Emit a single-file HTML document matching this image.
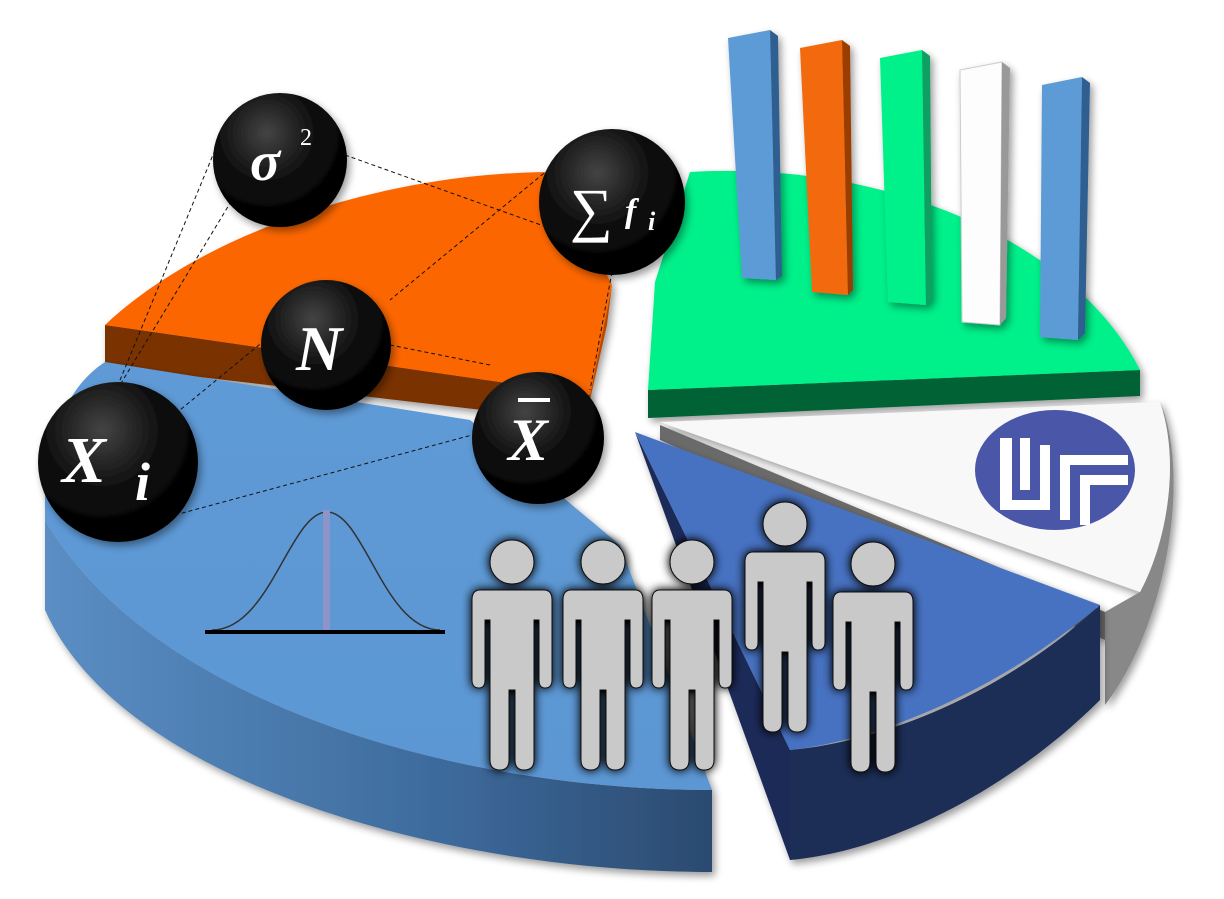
<!DOCTYPE html>
<html><head><meta charset="utf-8"><style>
html,body{margin:0;padding:0;background:#fff}
svg{display:block}
text{font-family:"Liberation Serif",serif;font-weight:bold;font-style:italic;fill:#fff}
</style></head><body>
<svg width="1224" height="899" viewBox="0 0 1224 899" xmlns="http://www.w3.org/2000/svg">
<defs>
<linearGradient id="bs" x1="0" y1="0" x2="1" y2="0">
<stop offset="0" stop-color="#5b8ec4"/><stop offset="0.6" stop-color="#3d6a9c"/><stop offset="1" stop-color="#2b4a70"/></linearGradient>
<linearGradient id="bt" x1="0" y1="0" x2="0" y2="1">
<stop offset="0" stop-color="#5e9ad6"/><stop offset="1" stop-color="#5c97d4"/></linearGradient>
<radialGradient id="ball" cx="0.4" cy="0.3" r="0.8">
<stop offset="0" stop-color="#444"/><stop offset="0.5" stop-color="#0a0a0a"/><stop offset="1" stop-color="#000"/></radialGradient>
<filter id="glow" x="-20%" y="-20%" width="140%" height="140%"><feGaussianBlur in="SourceAlpha" stdDeviation="5"/><feComponentTransfer><feFuncA type="linear" slope="1.2"/></feComponentTransfer><feMerge><feMergeNode/><feMergeNode in="SourceGraphic"/></feMerge></filter>
<filter id="sh" x="-20%" y="-20%" width="140%" height="140%"><feGaussianBlur in="SourceAlpha" stdDeviation="4"/><feOffset dx="3" dy="4"/><feComponentTransfer><feFuncA type="linear" slope="0.4"/></feComponentTransfer><feMerge><feMergeNode/><feMergeNode in="SourceGraphic"/></feMerge></filter>
<g id="man"><circle cx="0" cy="-78" r="22"/><path d="M-32,-50 Q-40,-50 -40,-40 L-40,40 Q-40,48 -33,48 Q-27,48 -27,40 L-27,-20 L-22,-20 L-22,120 Q-22,130 -12,130 Q-3,130 -3,120 L-3,50 L3,50 L3,120 Q3,130 12,130 Q22,130 22,120 L22,-20 L27,-20 L27,40 Q27,48 33,48 Q40,48 40,40 L40,-40 Q40,-50 32,-50 Z"/></g>
</defs>

<g filter="url(#sh)">
<path d="M105,325 L590,395 L585,422 L105,366 Z" fill="#7a3000"/>
<path d="M612,285 L590,395 L585,422 L607,325 Z" fill="#b84800"/>
<path d="M105,325 C200,235 380,172 555,172 L612,285 L590,395 Z" fill="#fb6600"/>
</g>
<g filter="url(#sh)">
<path d="M648,390 L1140,370 L1140,396 L648,418 Z" fill="#006236"/>
<path d="M655,282 L690,172 C900,160 1080,250 1140,370 L648,390 Z" fill="#00f08a"/>
</g>
<g filter="url(#sh)">
<path d="M1140,592 C1168,540 1180,460 1160,402 C1190,470 1170,620 1105,705 L1105,612 Z" fill="#888"/>
<path d="M660,425 L1105,612 L1105,640 L660,440 Z" fill="#6a6a6a"/>
<path d="M660,422 L1160,402 C1180,460 1168,540 1140,592 Z" fill="#f8f8f8"/>
</g>
<ellipse cx="1055" cy="470" rx="80" ry="60" fill="#4a57a8"/>
<path d="M1000,438 L1012,438 L1012,500 L1040,500 L1040,445 L1050,445 L1050,510 L1000,510 Z" fill="#fff"/>
<path d="M1020,438 L1030,438 L1030,490 L1020,490 Z" fill="#fff"/>
<path d="M1060,455 L1128,455 L1128,465 L1070,465 L1070,520 L1060,520 Z" fill="#fff"/>
<path d="M1080,475 L1128,475 L1128,485 L1090,485 L1090,525 L1080,525 Z" fill="#fff"/>
<g filter="url(#sh)">
<path d="M635,432 L790,750 L790,860 Z" fill="#1b2c58"/>
<path d="M790,750 C900,740 1020,680 1100,605 L1100,700 C1020,780 900,850 790,860 Z" fill="#1e2e56"/>
<path d="M635,432 L1100,605 C1000,690 880,740 790,750 Z" fill="#4672c2"/>
</g>
<g filter="url(#sh)">
<path d="M45,520 C150,700 450,790 712,790 L712,872 C440,872 120,780 45,610 Z" fill="url(#bs)"/>
<path d="M45,470 C60,395 90,372 105,362 L470,420 L620,545 L712,790 C450,790 150,700 45,520 Z" fill="url(#bt)"/>
</g>
<g filter="url(#sh)">
<path d="M728,38 L770,30 L776,280 L742,278 Z" fill="#5b9bd5"/><path d="M770,30 L778,36 L782,276 L776,280 Z" fill="#2e5f90"/>
<path d="M800,48 L842,40 L848,295 L812,292 Z" fill="#f26a10"/><path d="M842,40 L850,46 L853,290 L848,295 Z" fill="#9c3c00"/>
<path d="M880,58 L922,50 L926,305 L888,302 Z" fill="#00f08a"/><path d="M922,50 L930,56 L932,300 L926,305 Z" fill="#08a060"/>
<path d="M960,70 L1002,62 L1000,325 L962,322 Z" fill="#fdfdfd" stroke="#ccc"/><path d="M1002,62 L1010,68 L1006,318 L1000,325 Z" fill="#999"/>
<path d="M1042,85 L1082,77 L1078,340 L1040,337 Z" fill="#5b9bd5"/><path d="M1082,77 L1090,83 L1085,333 L1078,340 Z" fill="#2e5f90"/>
</g>
<path d="M212,630 C270,630 290,512 327,512 C364,512 384,630 440,630" fill="none" stroke="#333" stroke-width="1.5"/>
<rect x="323" y="510" width="7" height="122" fill="#8b95c8"/>
<line x1="205" y1="632" x2="445" y2="632" stroke="#000" stroke-width="4"/>
<g fill="#c9c9c9" stroke="#111" stroke-width="1" filter="url(#glow)">
<use href="#man" x="512" y="640"/>
<use href="#man" x="603" y="640"/>
<use href="#man" x="692" y="640"/>
<use href="#man" x="785" y="602"/>
<use href="#man" x="873" y="642"/>
</g>
<g stroke="#111" stroke-width="1" stroke-dasharray="4,3" fill="none">
<line x1="215" y1="150" x2="118" y2="385"/>
<line x1="345" y1="155" x2="555" y2="230"/>
<line x1="560" y1="160" x2="390" y2="300"/>
<line x1="612" y1="272" x2="590" y2="390"/>
<line x1="390" y1="345" x2="490" y2="365"/>
<line x1="265" y1="340" x2="180" y2="410"/>
<line x1="175" y1="515" x2="472" y2="435"/>
<line x1="235" y1="195" x2="120" y2="385"/>
</g>
<g filter="url(#sh)">
<circle cx="280" cy="160" r="67" fill="url(#ball)"/>
<circle cx="612" cy="202" r="73" fill="url(#ball)"/>
<circle cx="326" cy="345" r="65" fill="url(#ball)"/>
<circle cx="538" cy="438" r="66" fill="url(#ball)"/>
<circle cx="118" cy="462" r="80" fill="url(#ball)"/>
</g>
<text x="250" y="180" font-size="56">σ</text>
<text x="300" y="145" font-size="24" style="font-style:normal;font-weight:normal">2</text>
<text x="570" y="230" font-size="60" style="font-style:normal;font-weight:normal">∑</text>
<text x="625" y="222" font-size="34">f</text><text x="648" y="230" font-size="26">i</text>
<text x="296" y="370" font-size="64">N</text>
<text x="508" y="460" font-size="60">X</text>
<rect x="518" y="398" width="32" height="4" fill="#fff"/>
<text x="62" y="482" font-size="66">X</text>
<text x="135" y="500" font-size="54">i</text>
</svg>
</body></html>
